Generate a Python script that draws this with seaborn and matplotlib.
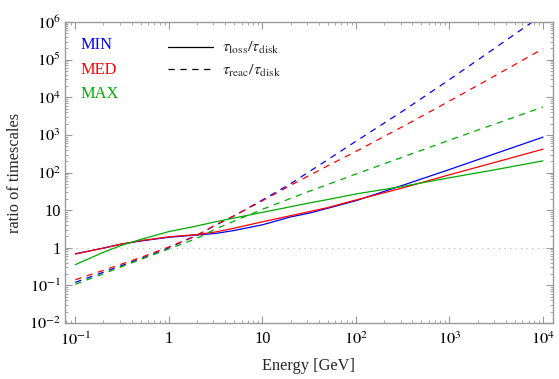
import numpy as np
import pandas as pd
import seaborn as sns
import matplotlib
matplotlib.use("Agg")
import matplotlib.pyplot as plt
from matplotlib.lines import Line2D
from matplotlib.ticker import LogLocator, FuncFormatter, NullFormatter

# values (GeV, ratio)
energy = [0.1, 0.2, 0.316, 0.5, 1.0, 2.0, 3.16, 5.0, 10.0, 20.0, 31.6, 50.0,
          100.0, 316.0, 1000.0, 3160.0, 10000.0]

min_loss = [0.69, 0.98, 1.26, 1.51, 1.9, 2.19, 2.4, 2.88, 4.07, 6.6, 8.3, 11.2,
            17.8, 45.7, 120.0, 324.0, 871.0]
med_loss = [0.68, 0.98, 1.26, 1.55, 1.95, 2.24, 2.63, 3.31, 4.9, 7.1, 9.1, 11.7,
            18.6, 38.9, 87.0, 190.0, 417.0]
max_loss = [0.355, 0.76, 1.17, 1.66, 2.69, 3.8, 4.9, 6.17, 8.7, 12.3, 15.5, 19.1,
            26.9, 42.7, 72.4, 120.0, 204.0]

min_reac = [0.12, 0.224, 0.339, 0.513, 1.0, 2.14, 3.98, 7.08, 18.6, 50.1, 105.0, 219.0,
            676.0, 4270.0, 29500.0, 2.14e5, 1.58e6]
med_reac = [0.141, 0.251, 0.372, 0.55, 1.05, 2.14, 4.07, 7.08, 17.8, 45.7, 83.0, 151.0,
            363.0, 1660.0, 7940.0, 38900.0, 1.95e5]
max_reac = [0.107, 0.204, 0.316, 0.49, 0.93, 1.78, 3.16, 5.13, 10.5, 20.4, 31.6, 47.9,
            91.0, 257.0, 724.0, 2000.0, 5500.0]

models = ["MIN", "MED", "MAX"]
colors = {"MIN": "#0000ff", "MED": "#ff0000", "MAX": "#00aa00"}

rows = []
for model, loss, reac in zip(models, (min_loss, med_loss, max_loss), (min_reac, med_reac, max_reac)):
    for e, l, r in zip(energy, loss, reac):
        rows.append((e, l, model, "loss"))
        rows.append((e, r, model, "reac"))
df = pd.DataFrame(rows, columns=["energy", "ratio", "model", "kind"])

sns.set_theme(style="white")
plt.rcParams["font.family"] = ["Liberation Serif", "DejaVu Serif"]
plt.rcParams["mathtext.fontset"] = "stix"
fs = 11.8
dash = (5.0, 4.5)

fig = plt.figure(figsize=(5.59, 3.79), dpi=100)
ax = fig.add_axes([65 / 559, 56 / 379, 488 / 559, 301 / 379])

ax.axhline(1, color="#b8b8b8", lw=0.8, dashes=(1, 4), zorder=1)

sns.lineplot(
    data=df, x="energy", y="ratio", hue="model", style="kind",
    hue_order=models, style_order=["loss", "reac"],
    palette=colors, dashes={"loss": "", "reac": dash},
    estimator=None, sort=True, lw=0.9, legend=False, ax=ax,
)

ax.set_xscale("log")
ax.set_yscale("log")
ax.set_xlim(10 ** -1.11, 10 ** 4.107)
ax.set_ylim(1e-2, 1e6)


def dec_fmt(v, pos):
    e = int(round(np.log10(v)))
    if e == 0:
        return "1"
    if e == 1:
        return "10"
    return rf"$10^{{{e}}}$"


for axis in (ax.xaxis, ax.yaxis):
    axis.set_major_locator(LogLocator(base=10, numticks=20))
    axis.set_minor_locator(LogLocator(base=10, subs=np.arange(2, 10), numticks=20))
    axis.set_major_formatter(FuncFormatter(dec_fmt))
    axis.set_minor_formatter(NullFormatter())

ax.tick_params(which="both", direction="in", top=True, right=True, bottom=True, left=True,
               color="#999999", labelcolor="black", labelsize=fs)
ax.tick_params(which="major", length=5, width=0.8)
ax.tick_params(which="minor", length=2.5, width=0.6)
ax.tick_params(axis="x", pad=6)
ax.tick_params(axis="y", pad=3)
for s in ax.spines.values():
    s.set_color("#999999")
    s.set_linewidth(1.0)
ax.grid(False)

ax.set_xlabel("Energy [GeV]", fontsize=fs, labelpad=7)
ax.set_ylabel("ratio of timescales", fontsize=fs, labelpad=4)

for i, m in enumerate(models):
    ax.text(0.031, 0.922 - 0.08 * i, m, color=colors[m], fontsize=fs,
            transform=ax.transAxes, va="center")

handles = [Line2D([], [], color="black", lw=0.9),
           Line2D([], [], color="black", lw=0.9, dashes=dash)]
labels = [r"$\tau_{\rm loss}/\tau_{\rm disk}$", r"$\tau_{\rm reac}/\tau_{\rm disk}$"]
ax.legend(handles, labels, loc="upper left", bbox_to_anchor=(0.181, 0.988),
          frameon=False, fontsize=fs, handlelength=2.75, handletextpad=0.55,
          labelspacing=0.4, borderpad=0.4)

fig.savefig("out.png", dpi=100)
